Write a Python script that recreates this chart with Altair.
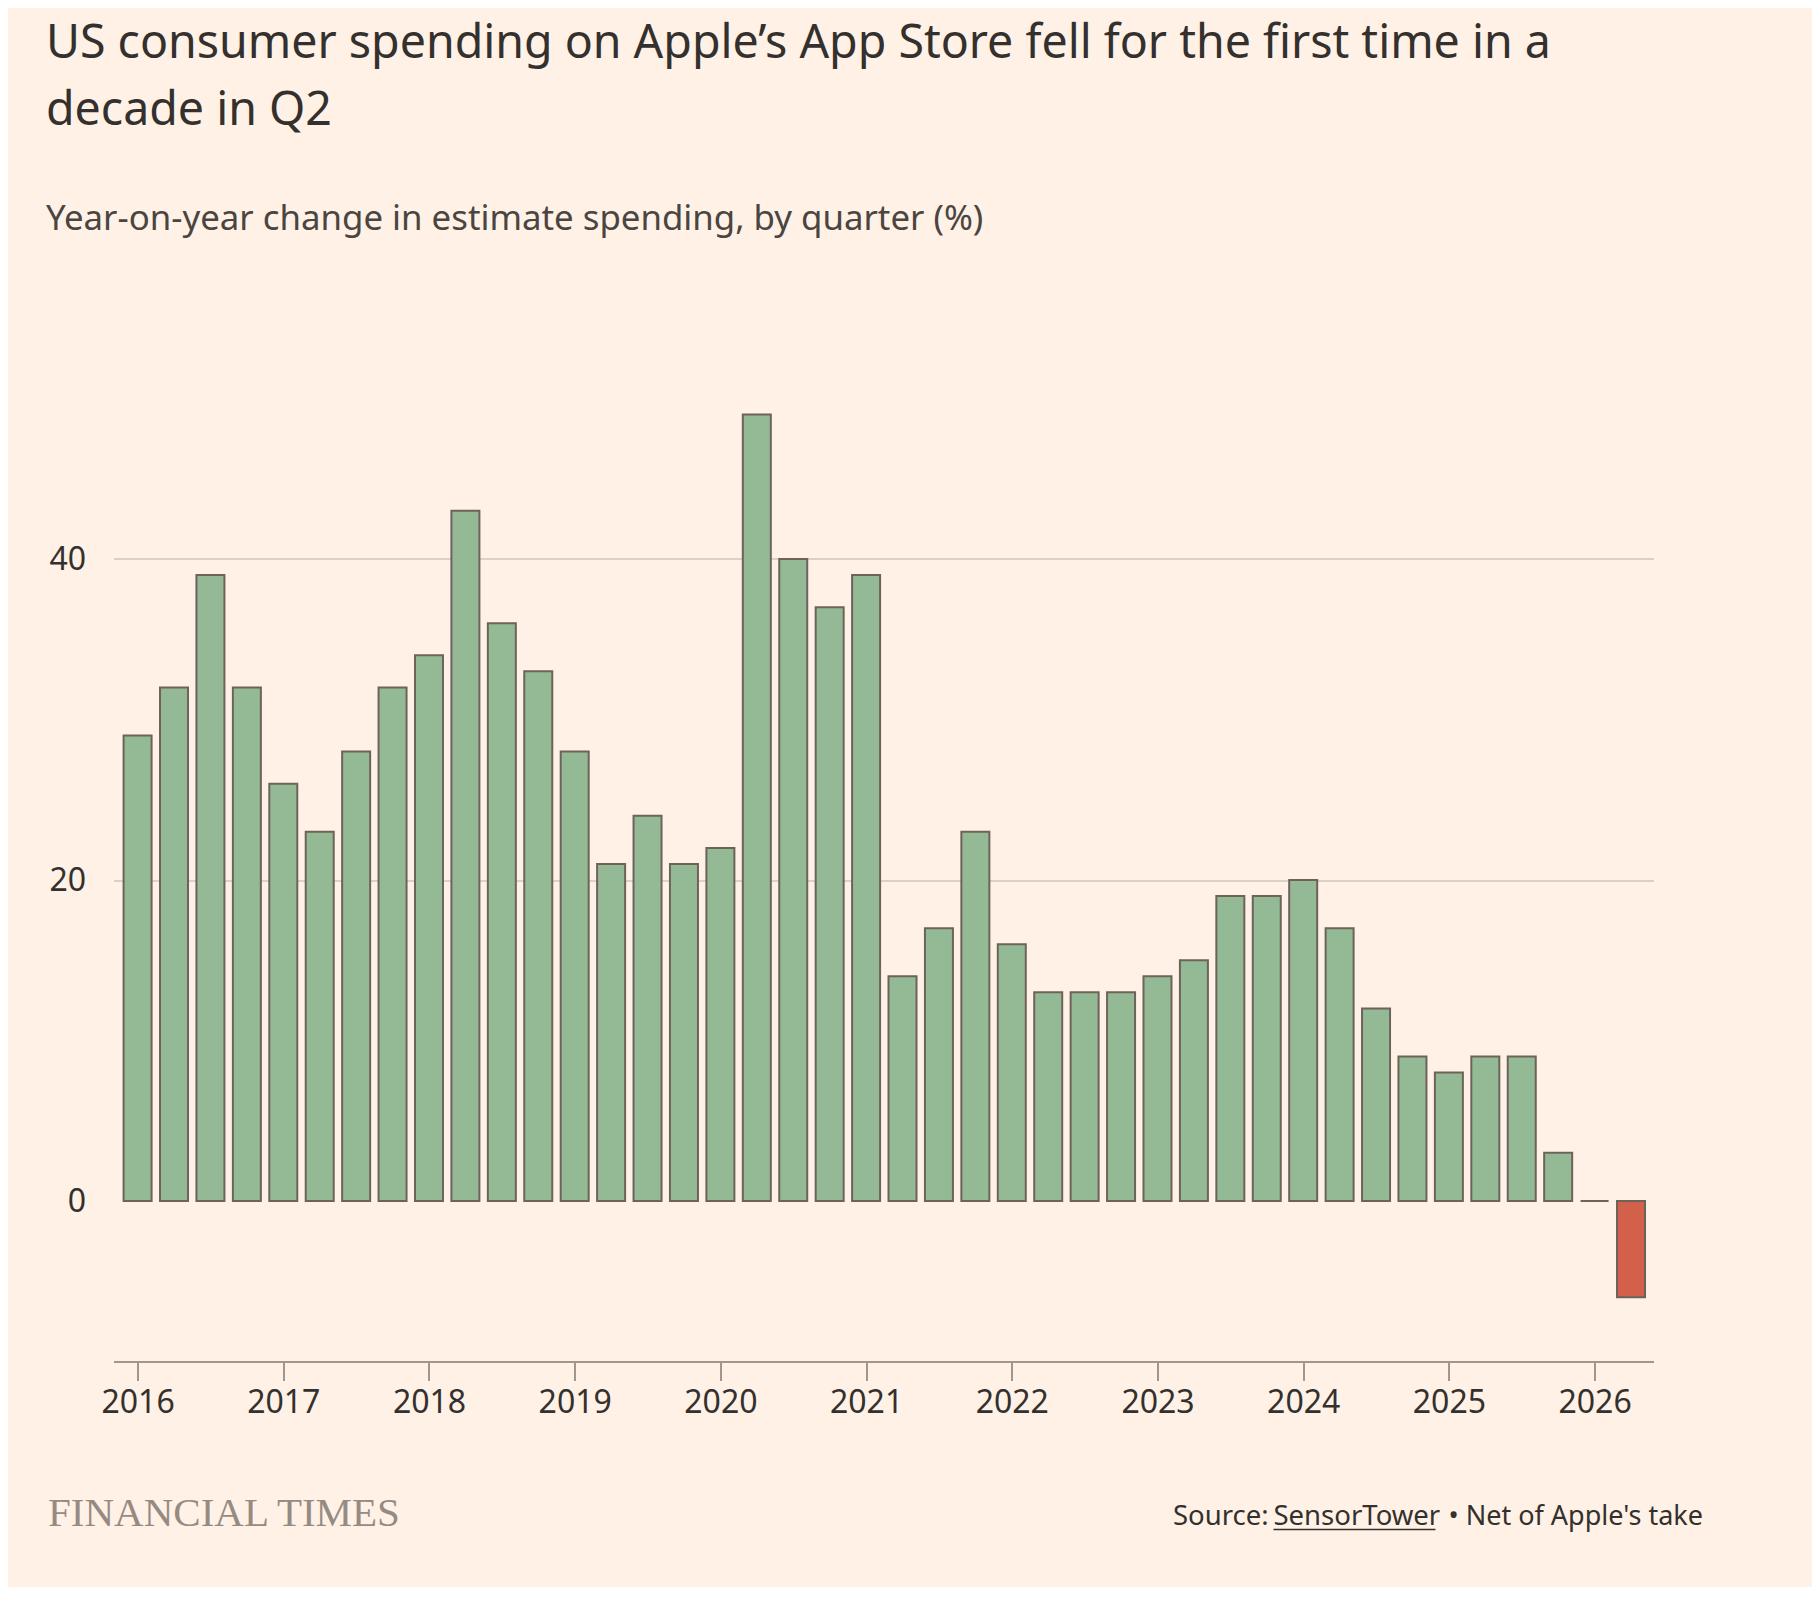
import altair as alt
import pandas as pd

# ---- data ----
quarters = [
    "2016 Q1", "2016 Q2", "2016 Q3", "2016 Q4",
    "2017 Q1", "2017 Q2", "2017 Q3", "2017 Q4",
    "2018 Q1", "2018 Q2", "2018 Q3", "2018 Q4",
    "2019 Q1", "2019 Q2", "2019 Q3", "2019 Q4",
    "2020 Q1", "2020 Q2", "2020 Q3", "2020 Q4",
    "2021 Q1", "2021 Q2", "2021 Q3", "2021 Q4",
    "2022 Q1", "2022 Q2", "2022 Q3", "2022 Q4",
    "2023 Q1", "2023 Q2", "2023 Q3", "2023 Q4",
    "2024 Q1", "2024 Q2", "2024 Q3", "2024 Q4",
    "2025 Q1", "2025 Q2", "2025 Q3", "2025 Q4",
    "2026 Q1", "2026 Q2",
]
growth = [
    29, 32, 39, 32,
    26, 23, 28, 32,
    34, 43, 36, 33,
    28, 21, 24, 21,
    22, 49, 40, 37,
    39, 14, 17, 23,
    16, 13, 13, 13,
    14, 15, 19, 19,
    20, 17, 12, 9,
    8, 9, 9, 3,
    0, -6,
]
year_ticks = [2016, 2017, 2018, 2019, 2020, 2021, 2022, 2023, 2024, 2025, 2026]
y_ticks = [0, 20, 40]

title_line1 = "US consumer spending on Apple\u2019s App Store fell for the first time in a"
title_line2 = "decade in Q2"
subtitle = "Year-on-year change in estimate spending, by quarter (%)"
source_a = "Source:"
source_b = "SensorTower"
source_c = "\u2022 Net of Apple's take"
brand = "FINANCIAL TIMES"

df = pd.DataFrame({"quarter": quarters, "growth": growth})
df["pos"] = [int(q[:4]) + (int(q[-1]) - 1) / 4 for q in quarters]

BG = "#FFF1E5"
INK = "#33302E"
FONT = "Noto Sans"
W, H = 1540, 963

bars = alt.Chart(df).mark_bar(size=28, stroke="#6E635B", strokeWidth=2).encode(
    x=alt.X(
        "pos:Q",
        scale=alt.Scale(domain=[2015.869, 2026.370], nice=False, zero=False),
        axis=alt.Axis(
            values=year_ticks, format="d", title=None, grid=False,
            domainColor="#A0968D", domainWidth=2,
            tickColor="#A0968D", tickWidth=2, tickSize=19,
            labelFontSize=32, labelColor=INK, labelPadding=7, labelFont=FONT,
        ),
    ),
    y=alt.Y(
        "growth:Q",
        scale=alt.Scale(domain=[-10, 50], nice=False),
        axis=alt.Axis(
            values=y_ticks, title=None, domain=False, ticks=False,
            grid=True, gridColor="#CFC6BC", gridWidth=1.5,
            gridOpacity={"condition": {"test": "datum.value === 0", "value": 0}, "value": 1},
            labelFontSize=32, labelColor=INK, labelPadding=28, labelFont=FONT,
        ),
    ),
    fill=alt.condition("datum.growth < 0", alt.value("#D2604A"), alt.value("#94B995")),
    tooltip=["quarter:N", "growth:Q"],
)

one = alt.Data(values=[{}])


def label(text, x, y, size, color=INK, font=FONT, align="left"):
    return alt.Chart(one).mark_text(
        text=text, font=font, fontSize=size, color=color,
        align=align, baseline="alphabetic",
    ).encode(x=alt.value(x), y=alt.value(y))


title1 = label(title_line1, -67.5, -340.5, 46.5)
title2 = label(title_line2, -67.5, -273.5, 46.5)
sub = label(subtitle, -67.5, -168.5, 34.8, color="#4A4541")
logo = label(brand, -65.5, 1127.2, 41, color="#968B83", font="Liberation Serif")
src_a = label(source_a, 1059.5, 1126.5, 27.5)
src_b = label(source_b, 1160, 1126.5, 27.5)
underline = alt.Chart(one).mark_rule(color=INK, strokeWidth=1.5).encode(
    x=alt.value(1160), x2=alt.value(1322), y=alt.value(1131)
)
src_c = label(source_c, 1589.5, 1126.5, 27, align="right")

chart = (
    alt.layer(bars, title1, title2, sub, logo, src_a, src_b, underline, src_c)
    .properties(
        width=W, height=H,
        background=BG,
        autosize=alt.AutoSizeParams(type="none"),
        padding={"left": 105.5, "top": 390.5, "right": 158.5, "bottom": 225.5},
    )
    .configure(font=FONT)
    .configure_view(stroke="transparent", strokeWidth=0)
)

chart.save("out.html", embed_options={"renderer": "svg", "actions": False})
